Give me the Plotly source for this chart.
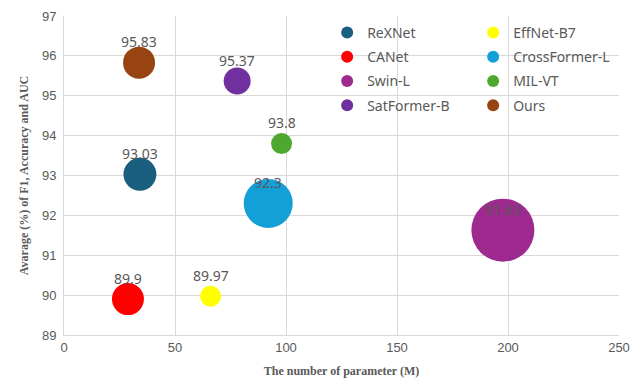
import plotly.graph_objects as go

# ---- data ----
models = ["ReXNet", "EffNet-B7", "CANet", "CrossFormer-L", "Swin-L", "MIL-VT", "SatFormer-B", "Ours"]
params_m = [34.2, 66.0, 28.8, 92.0, 197.7, 98.0, 78.0, 33.8]
avg_score = [93.03, 89.97, 89.9, 92.3, 91.63, 93.8, 95.37, 95.83]
bubble_size = [33, 21, 32, 49, 63, 21, 27, 32]
colors = ["#1A5E80", "#FFFF00", "#FF0000", "#12A0D7", "#9E2A8F", "#4EA72E", "#7030A0", "#984312"]
legend_column = ["legend", "legend2", "legend", "legend2", "legend", "legend2", "legend", "legend2"]
x_ticks = [0, 50, 100, 150, 200, 250]
y_ticks = [89, 90, 91, 92, 93, 94, 95, 96, 97]

GRAY = "#595959"
GRID = "#D9D9D9"

fig = go.Figure()
for name, x, y, s, c, lg in zip(models, params_m, avg_score, bubble_size, colors, legend_column):
    fig.add_trace(go.Scatter(
        x=[x], y=[y], name=name, mode="markers", legend=lg, legendgroup=name,
        marker=dict(size=[s], sizemode="diameter", color=c, line=dict(width=0), opacity=1),
    ))

annotations = []
for x, y in zip(params_m, avg_score):
    annotations.append(dict(
        x=x, y=y, text=f"{y:g}", showarrow=False, yshift=21,
        font=dict(family="Noto Sans", size=14, color=GRAY),
    ))

legend_style = dict(
    orientation="v", xref="container", yref="container",
    y=0.976, xanchor="left", yanchor="top",
    font=dict(family="Noto Sans", size=14, color=GRAY),
    itemsizing="constant", bgcolor="rgba(0,0,0,0)", tracegroupgap=3,
)

# page body has an 8px margin, so the figure is sized to fill the remaining window
fig.update_layout(
    width=632, height=373,
    margin=dict(l=56, r=21, t=8, b=46, autoexpand=False),
    paper_bgcolor="white", plot_bgcolor="white",
    annotations=annotations,
    showlegend=True,
    legend=dict(x=0.505, **legend_style),
    legend2=dict(x=0.736, **legend_style),
    xaxis=dict(
        range=[0, 250], tickvals=x_ticks, showgrid=True, gridcolor=GRID, gridwidth=1.3,
        zeroline=False, showline=True, linecolor=GRID, mirror=False,
        tickfont=dict(family="Liberation Sans", size=13, color=GRAY),
        title=dict(text="<b>The number of parameter (M)</b>",
                   font=dict(family="Liberation Serif", size=12, color=GRAY), standoff=13),
        ticks="",
    ),
    yaxis=dict(
        range=[89, 97], tickvals=y_ticks, showgrid=True, gridcolor=GRID, gridwidth=1.3,
        zeroline=False, showline=True, linecolor=GRID, ticklabelstandoff=4,
        tickfont=dict(family="Liberation Sans", size=13, color=GRAY),
        title=dict(text="<b>Avarage (%) of F1, Accuracy and AUC</b>",
                   font=dict(family="Liberation Serif", size=12, color=GRAY), standoff=10),
        ticks="",
    ),
)

fig.write_html("out.html")
